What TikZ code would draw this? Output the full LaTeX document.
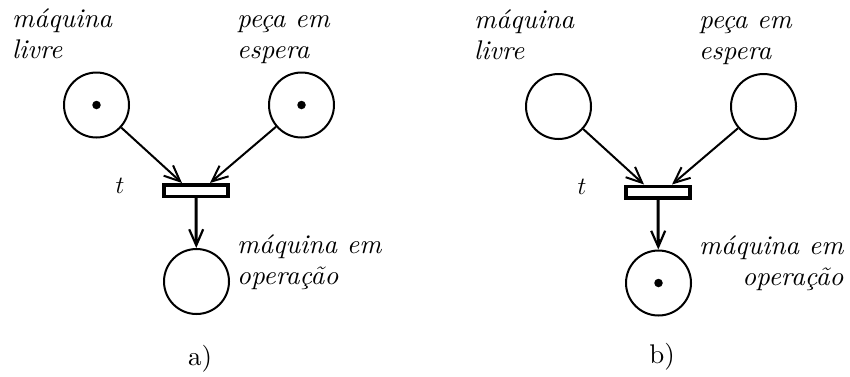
\documentclass[tikz,border=0pt]{standalone}
\usepackage{fontspec}
\newfontfamily\tenit{lmroman10-italic.otf}
\newfontfamily\tenrm{lmroman10-regular.otf}
\usetikzlibrary{arrows.meta,calc}
\begin{document}
\begin{tikzpicture}[x=1pt,y=-1pt,
 place/.style={circle,draw,line width=2pt,minimum size=65pt,inner sep=0pt},
 trans/.style={rectangle,draw,line width=3.5pt,minimum width=64pt,minimum height=11.5pt,inner sep=0pt},
 token/.style={circle,fill,minimum size=8.5pt,inner sep=0pt},
 arc/.style={line width=2pt,-{Straight Barb[length=16pt,width=14pt,line width=2pt]}},
 darc/.style={line width=3pt,-{Straight Barb[length=16pt,width=14pt,line width=2.2pt]}},
 lbl/.style={font=\tenit\fontsize{27}{31}\selectfont,inner sep=0pt},
 captxt/.style={font=\tenrm\fontsize{27}{31}\selectfont,inner sep=0pt}]
\useasboundingbox (0,0) rectangle (850,376);
% ---------- a) ----------
\begin{scope}
 \node[place] (apl) at (96.5,105) {};
 \node[place] (apr) at (301.5,105) {};
 \node[trans] (at) at (196,190.5) {};
 \node[place] (apb) at (196.5,281.5) {};
 \node[token] (atl) at (apl) {};
 \node[token] (atr) at (apr) {};
 \coordinate (aa1) at ($(at.north)+(-14,0)$);
 \coordinate (aa2) at ($(at.north)+(14,0)$);
 \draw[arc] (apl) -- (aa1);
 \draw[arc] (apr) -- (aa2);
 \draw[darc] (at.south) -- (apb);
 \node[lbl,anchor=base west,align=left] (alb1) at (12,58) {máquina\\livre};
 \node[lbl,anchor=base west,align=left] (alb2) at (237,58) {peça em\\espera};
 \node[captxt,anchor=base] (alt) at (120,193) {$t$};
 \node[lbl,anchor=base west,align=left] (alb3) at (237,284) {máquina em\\operação};
 \node[captxt,anchor=base] (acap) at (200,365) {a)};
\end{scope}
% ---------- b) ----------
\begin{scope}[shift={(462,1.5)}]
 \node[place] (bpl) at (96.5,105) {};
 \node[place] (bpr) at (301.5,105) {};
 \node[trans] (bt) at (196,190.5) {};
 \node[place] (bpb) at (196.5,281.5) {};
 \node[token] (btb) at (bpb) {};
 \coordinate (ba1) at ($(bt.north)+(-14,0)$);
 \coordinate (ba2) at ($(bt.north)+(14,0)$);
 \draw[arc] (bpl) -- (ba1);
 \draw[arc] (bpr) -- (ba2);
 \draw[darc] (bt.south) -- (bpb);
 \node[lbl,anchor=base west,align=left] (blb1) at (12,58) {máquina\\livre};
 \node[lbl,anchor=base west,align=left] (blb2) at (237,58) {peça em\\espera};
 \node[captxt,anchor=base] (blt) at (120,193) {$t$};
 \node[lbl,anchor=base west,align=right] (blb3) at (237,284) {máquina em\\operação};
 \node[captxt,anchor=base] (bcap) at (200,362) {b)};
\end{scope}
\end{tikzpicture}
\end{document}
